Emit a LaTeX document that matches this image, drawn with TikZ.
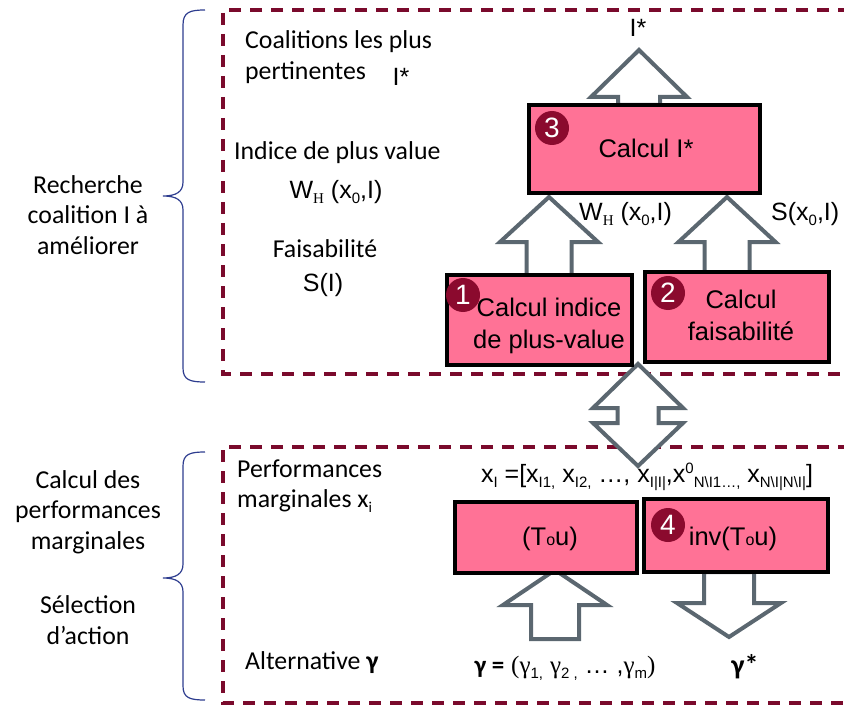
\documentclass[tikz,border=0pt]{standalone}
\usepackage{fontspec}
\setmainfont{Carlito}
\newfontfamily\arial{Liberation Sans}
\newfontfamily\tms{Liberation Serif}
\definecolor{boxpink}{HTML}{FF7296}
\definecolor{badgered}{HTML}{8B0A2E}
\definecolor{arrgray}{HTML}{5B6770}
\definecolor{zonered}{HTML}{7A0A2C}
\definecolor{bracecol}{HTML}{2E3D8F}
\newcommand\sbs[1]{\raisebox{-5pt}{\fontsize{15}{15}\selectfont #1}}
\newcommand\sps[1]{\raisebox{9pt}{\fontsize{15}{15}\selectfont #1}}
\newcommand\varrow[6]{\draw[blockarr] (#1-#6,#4) -- (#1-#6,#3) -- (#1-#5,#3) -- (#1,#2) -- (#1+#5,#3) -- (#1+#6,#3) -- (#1+#6,#4) -- cycle;}
\begin{document}
\begin{tikzpicture}[x=1pt,y=-1pt,
  lbl/.style={font=\fontsize{25.8}{30.5}\selectfont, align=center, inner sep=0pt},
  albl/.style={font=\arial\fontsize{25}{30}\selectfont, align=center, inner sep=0pt},
  pbox/.style={draw=black, line width=3.5pt, fill=boxpink, inner sep=0pt},
  btext/.style={font=\arial\fontsize{25.5}{32}\selectfont, align=center, inner sep=0pt},
  badge/.style={circle, fill=badgered, text=white, minimum size=34pt, inner sep=0pt, font=\arial\fontsize{28}{28}\selectfont},
  blockarr/.style={draw=arrgray, line width=4pt, fill=white, line join=miter},
  zone/.style={draw=zonered, line width=3.5pt, dash pattern=on 12pt off 9pt},
  bracestyle/.style={draw=bracecol, line width=1.2pt}]
\useasboundingbox (0,0) rectangle (844,706);
% zones
\draw[zone] (850,10) -- (223,10) -- (223,374) -- (850,374);
\draw[zone] (850,447) -- (223,447) -- (223,703) -- (850,703);
% braces
\draw[bracestyle] (205,10) .. controls (190,10) and (183,12) .. (183,25) -- (183,182) .. controls (183,192) and (176,196) .. (163,196) .. controls (176,196) and (183,200) .. (183,210) -- (183,368) .. controls (183,380) and (190,382) .. (205,382);
\draw[bracestyle] (205,452) .. controls (190,452) and (183,454) .. (183,466) -- (183,564) .. controls (183,574) and (176,578) .. (163,578) .. controls (176,578) and (183,582) .. (183,592) -- (183,686) .. controls (183,698) and (190,700) .. (205,700);
% left labels
\node[lbl] (rech) at (88,215) {Recherche\\coalition I à\\améliorer};
\node[lbl] (calc) at (88,512) {Calcul des\\performances\\marginales};
\node[lbl] (sel) at (88,620) {Sélection\\d’action};
% block arrows
\varrow{639}{50}{97}{105}{48}{21}
\varrow{549}{197}{242}{275}{49}{22.5}
\varrow{727}{197}{242}{272}{48.5}{22.5}
\varrow{555}{570}{605}{639}{52}{24}
\draw[blockarr] (729-25,572) -- (729-25,603) -- (729-52,603) -- (729,637) -- (729+52,603) -- (729+25,603) -- (729+25,572) -- cycle;
\draw[blockarr] (638,364) -- (683,408) -- (658.5,408) -- (658.5,423) -- (683,423) -- (638,466) -- (593,423) -- (617.5,423) -- (617.5,408) -- (593,408) -- cycle;
% boxes
\node[pbox, minimum width=231pt, minimum height=88pt] (b3) at (644.5,149) {};
\node[pbox, minimum width=185pt, minimum height=90pt] (b1) at (539.5,320) {};
\node[pbox, minimum width=184pt, minimum height=90pt] (b2) at (737,317) {};
\node[pbox, minimum width=182pt, minimum height=71pt] (b5) at (546,537.5) {};
\node[pbox, minimum width=184pt, minimum height=73pt] (b4) at (736,535.5) {};
% box texts
\node[btext] (t3) at (646,148) {Calcul I*};
\node[btext] (t1) at (549,326) {Calcul indice\\de plus-value};
\node[btext] (t2) at (741,315) {Calcul\\faisabilité};
\node[btext] (t5) at (550,539) {(T{\fontsize{16}{16}\selectfont o}u)};
\node[btext] (t4) at (733,539) {inv(T{\fontsize{16}{16}\selectfont o}u)};
% badges
\node[badge] (c3) at (552,128) {3};
\node[badge] (c1) at (463,295) {1};
\node[badge] (c2) at (668,293) {2};
\node[badge] (c4) at (668,525) {4};
% labels top zone
\node[albl] (istar) at (638,28) {I*};
\node[albl, anchor=west] (whr) at (579,214) {W\raisebox{-5pt}{\tms\fontsize{15}{15}\selectfont H} (x\sbs{0},I)};
\node[albl, anchor=west] (sxr) at (771,214) {S(x\sbs{0},I)};
\node[lbl, anchor=west, align=left] (coal) at (245,57) {Coalitions les plus\\pertinentes};
\node[albl] (istar2) at (401,77) {I*};
\node[lbl, anchor=west] (ind) at (234,153) {Indice de plus value};
\node[albl] (whl) at (336,192) {W\raisebox{-5pt}{\tms\fontsize{15}{15}\selectfont H} (x\sbs{0},I)};
\node[lbl] (fais) at (325,249) {Faisabilité};
\node[albl] (si) at (323,285) {S(I)};
% labels bottom zone
\node[lbl, anchor=west, align=left] (perf) at (237,486) {Performances\\marginales x\raisebox{-5pt}{\fontsize{15}{15}\selectfont i}};
\node[albl] (xi) at (647,477) {x\sbs{I} =[x\sbs{I1,} x\sbs{I2,} \dots , x\sbs{I|I|},x\sps{0}\sbs{N\textbackslash I1\dots,} x\sbs{N\textbackslash I|N\textbackslash I|}]};
\node[lbl, anchor=west] (alt) at (245,663) {Alternative \textbf{γ}};
\node[albl] (gam) at (565,668) {\textbf{\fontspec{Carlito}γ =} {\tms (γ}\sbs{1,} {\tms γ}\sbs{2 ,} \dots{} ,{\tms γ}\sbs{m}{\tms )}};
\node[lbl] (gstar) at (745,667) {\fontsize{28}{28}\selectfont\textbf{γ*}};
\end{tikzpicture}
\end{document}
